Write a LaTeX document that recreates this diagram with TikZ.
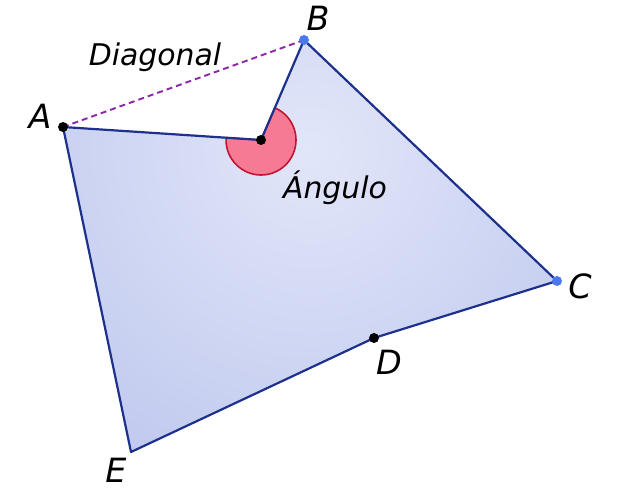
\documentclass[tikz,border=0pt]{standalone}
\usepackage{fontspec}
\setsansfont{DejaVu Sans}
\usetikzlibrary{positioning,calc}

\definecolor{edgeblue}{RGB}{28,48,140}
\definecolor{diagpurple}{RGB}{140,40,170}
\definecolor{anglered}{RGB}{246,122,148}
\definecolor{angleedge}{RGB}{195,20,45}
\definecolor{vertexblue}{RGB}{75,120,235}
\definecolor{fillhi}{RGB}{226,230,249}
\definecolor{filllo}{RGB}{160,174,228}

\begin{document}
\begin{tikzpicture}[x=0.02cm, y=-0.02cm,
    edge/.style={draw=edgeblue, line width=1.25pt, line join=round},
    diag/.style={draw=diagpurple, line width=1.1pt, dash pattern=on 3.4pt off 2.3pt},
    sector/.style={fill=anglered, draw=angleedge, line width=0.9pt},
    blackdot/.style={circle, fill=black, inner sep=0pt, minimum size=0.2cm},
    bluedot/.style={circle, fill=vertexblue, inner sep=0pt, minimum size=0.2cm},
    lbl/.style={font=\sffamily\itshape\fontsize{17}{20}\selectfont, inner sep=0pt},
    vlbl/.style={font=\sffamily\itshape\fontsize{19}{22}\selectfont, inner sep=0pt}]
    \useasboundingbox (0,0) rectangle (618,496);
    % Vertices
    \coordinate (A) at (63,127);
    \coordinate (B) at (304,40);
    \coordinate (C) at (557,281);
    \coordinate (D) at (374,338);
    \coordinate (E) at (131,452);
    \coordinate (P) at (261,140);
    % Shaded polygon
    \begin{scope}
        \clip (A) -- (P) -- (B) -- (C) -- (D) -- (E) -- cycle;
        \shade[inner color=fillhi, outer color=filllo] (310,150) circle (700);
    \end{scope}
    % Reflex angle
    \draw[sector] (P) -- ($(P)+(-66.7:35)$) arc[start angle=-66.7, end angle=183.8, radius=35] -- cycle;
    % Edges
    \draw[edge] (A) -- (P) -- (B) -- (C) -- (D) -- (E) -- cycle;
    \draw[diag] (A) -- (B);
    % Points
    \node[blackdot] (dA) at (A) {};
    \node[bluedot] (dB) at (B) {};
    \node[bluedot] (dC) at (C) {};
    \node[blackdot] (dD) at (D) {};
    \node[blackdot] (dP) at (P) {};
    % Labels
    \node[vlbl] (labA) at (40,116) {A};
    \node[vlbl] (labB) at (318,18) {B};
    \node[vlbl] (labC) at (580,286) {C};
    \node[vlbl] (labD) at (389,362) {D};
    \node[vlbl] (labE) at (116,470) {E};
    \node[lbl] (labDiag) at (155,57) {Diagonal};
    \node[lbl] (labAng) at (335,188) {Ángulo};
\end{tikzpicture}
\end{document}
